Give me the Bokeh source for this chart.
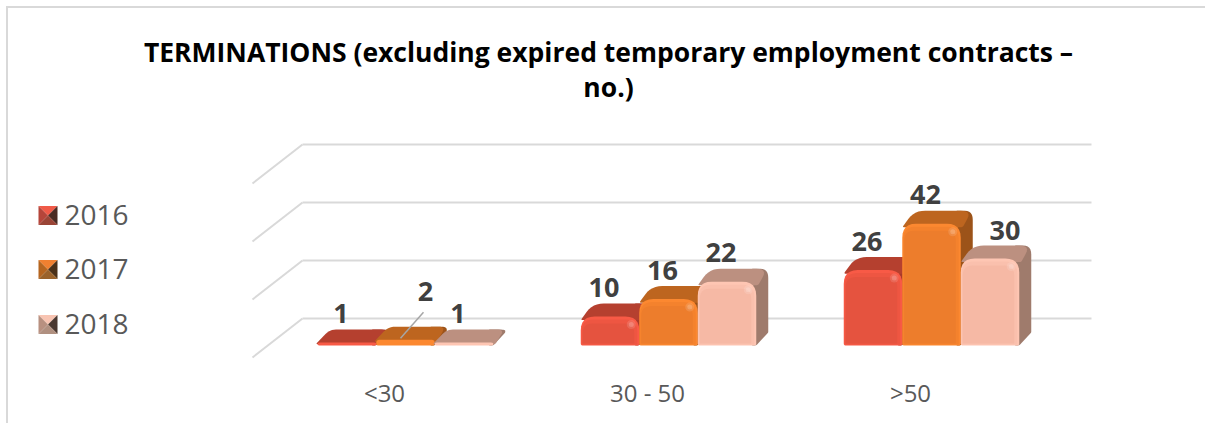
import math
from bokeh.core.properties import value
from bokeh.embed import file_html
from bokeh.models import ColumnDataSource, FixedTicker
from bokeh.plotting import figure
from bokeh.resources import INLINE

# Chart content
TITLE_LINES = ["TERMINATIONS (excluding expired temporary employment contracts –", "no.)"]
age_groups = ["<30", "30 - 50", ">50"]
years = ["2016", "2017", "2018"]
terminations_2016 = [1, 10, 26]
terminations_2017 = [2, 16, 42]
terminations_2018 = [1, 22, 30]
grid_values = [0, 20, 40, 60]

# Bevelled bar palette: body, middle of the bevel, outer edge, top face, side face
palette = [
    ("#E5533F", "#EE5642", "#F85A46", "#B5402F", "#A83A2A"),
    ("#ED7D2C", "#F4822D", "#FC8830", "#BD651F", "#9C5319"),
    ("#F6B9A5", "#FAC0AD", "#FEC6B3", "#BC9080", "#9F7B6C"),
]

# Geometry of the page and of the oblique projection, in pixels
PAGE_W, PAGE_H, FRAME_H = 1205, 423, 364
GROUP_STEP = 263.0
FIRST_TICK = 384.0
BASE_PY = 345.0
PX_PER_UNIT = 2.9
BAR_PX = 58.5
BAR_SHIFT = 21.0
DEPTH_X, DEPTH_Y = 12.0, 13.0
WALL_BACK_PY, WALL_FRONT_PY = 318.0, 357.0
WALL_LEFT_BACK, WALL_LEFT_FRONT, WALL_RIGHT = 302.0, 252.0, 1091.0
FONT = "Open Sans"


def X(px):
    return (px - FIRST_TICK) / GROUP_STEP


def Y(py):
    return (BASE_PY - py) / PX_PER_UNIT


p = figure(
    frame_width=PAGE_W,
    frame_height=FRAME_H,
    x_range=(X(0), X(PAGE_W)),
    y_range=(Y(FRAME_H), Y(0)),
    output_backend="svg",
    toolbar_location=None,
    y_axis_location=None,
    min_border=0,
    min_border_bottom=PAGE_H - FRAME_H,
    background_fill_color=None,
    border_fill_color=None,
    outline_line_color=None,
    # Left and top edges of the chart area, running the full height of the page
    styles={
        "background-color": "white",
        "background-image": "linear-gradient(#D9D9D9,#D9D9D9),linear-gradient(#D9D9D9,#D9D9D9)",
        "background-size": "2px 100%,100% 2px",
        "background-position": "6px 6px,6px 6px",
        "background-repeat": "no-repeat",
    },
)
p.grid.visible = False

# Category axis
axis = p.xaxis[0]
axis.ticker = FixedTicker(ticks=list(range(len(age_groups))))
axis.major_label_overrides = {i: name for i, name in enumerate(age_groups)}
axis.axis_line_color = None
axis.major_tick_line_color = None
axis.minor_tick_line_color = None
axis.major_label_standoff = 5
axis.major_label_text_font = FONT
axis.major_label_text_font_size = "24px"
axis.major_label_text_color = "#595959"

# Back wall and floor-side gridlines
back_off = (BASE_PY - WALL_BACK_PY) / PX_PER_UNIT
front_off = (BASE_PY - WALL_FRONT_PY) / PX_PER_UNIT
p.segment([X(WALL_LEFT_BACK)] * len(grid_values), [v + back_off for v in grid_values],
          [X(WALL_RIGHT)] * len(grid_values), [v + back_off for v in grid_values],
          line_color="#D9D9D9", line_width=2)
p.segment([X(WALL_LEFT_FRONT)] * len(grid_values), [v + front_off for v in grid_values],
          [X(WALL_LEFT_BACK)] * len(grid_values), [v + back_off for v in grid_values],
          line_color="#D9D9D9", line_width=2)


def rounded(points, radii, steps=6):
    """Round each corner of a polygon given in pixels, using quadratic curves."""
    out = []
    n = len(points)
    for i, (cx, cy) in enumerate(points):
        r = radii[i]
        if r <= 0:
            out.append((cx, cy))
            continue
        ax, ay = points[i - 1]
        bx, by = points[(i + 1) % n]
        la = math.hypot(ax - cx, ay - cy) or 1
        lb = math.hypot(bx - cx, by - cy) or 1
        ra = min(r, la / 2)
        rb = min(r, lb / 2)
        sx, sy = cx + (ax - cx) * ra / la, cy + (ay - cy) * ra / la
        ex, ey = cx + (bx - cx) * rb / lb, cy + (by - cy) * rb / lb
        for s in range(steps + 1):
            t = s / steps
            out.append(((1 - t) ** 2 * sx + 2 * t * (1 - t) * cx + t * t * ex,
                        (1 - t) ** 2 * sy + 2 * t * (1 - t) * cy + t * t * ey))
    return out


def draw_bar(group, series, val):
    body, mid, edge, top, side = palette[series]
    centre = BAR_SHIFT + (series - 1) * BAR_PX
    x0, x1 = centre - BAR_PX / 2, centre + BAR_PX / 2
    h = val * PX_PER_UNIT
    r = min(14.0, h * 0.7)
    rd = min(9.0, 3 + h * 0.4)

    def put(poly, color):
        # Polygon offsets are pixels from the group's tick and above the floor
        p.patch([group + q[0] / GROUP_STEP for q in poly], [q[1] / PX_PER_UNIT for q in poly],
                fill_color=color, line_color=None)

    # Side face, then top face, then the front with its bevel
    put(rounded([(x1 - 4, 0), (x1, 0), (x1 + DEPTH_X, DEPTH_Y), (x1 + DEPTH_X, h + DEPTH_Y),
                 (x1 - 4, h + DEPTH_Y)], [0, 2, 1, rd, 0]), side)
    flat = 2.0 if h < 8 else 0.0
    put(rounded([(x0 - flat, h - rd * 0.4), (x0 + DEPTH_X, h + DEPTH_Y), (x1 + DEPTH_X - 1, h + DEPTH_Y),
                 (x1 + 2, h - rd * 0.4)], [2, rd + 2, rd + 2, 2]), top)
    put(rounded([(x0, 0), (x1, 0), (x1, h), (x0, h)], [2, 2, r, r]), edge)
    if h > 8:
        put(rounded([(x0 + 1, 1), (x1 - 2, 1), (x1 - 2, h - 3), (x0 + 1, h - 3)],
                    [1, 1, max(r - 2, 1), max(r - 2, 1)]), mid)
        put(rounded([(x0 + 2, 2), (x1 - 5, 2), (x1 - 5, h - 7), (x0 + 2, h - 7)],
                    [1, 1, max(r - 4, 1), max(r - 4, 1)]), body)
        spot_x = group + (x1 - 8) / GROUP_STEP
        spot_y = (h - 8) / PX_PER_UNIT
        p.scatter([spot_x], [spot_y], size=9, marker="circle", fill_color="white", fill_alpha=0.12, line_color=None)
        p.scatter([spot_x], [spot_y], size=5, marker="circle", fill_color="white", fill_alpha=0.18, line_color=None)


series_values = [terminations_2016, terminations_2017, terminations_2018]
for g in range(len(age_groups)):
    for s in range(len(years)):
        draw_bar(g, s, series_values[s][g])

# Leader line for the small middle bar of the first group
leader_x = [X(423.0), X(400.0)]
leader_y = [terminations_2017[0] + 9.5, terminations_2017[0] + 0.5]
p.line(leader_x, leader_y, line_color="#A6A6A6", line_width=1.5)

# Data labels, placed relative to the front of each bar
LABEL_DX, LABEL_DY = -6, 29
nudge = {(0, 1): (20, 48), (2, 2): (15, 28)}
rows = {"x": [], "y": [], "t": [], "dx": [], "dy": []}
for g in range(len(age_groups)):
    for s in range(len(years)):
        v = series_values[s][g]
        dx, dy = nudge.get((g, s), (LABEL_DX, LABEL_DY))
        rows["x"].append(g + (BAR_SHIFT + (s - 1) * BAR_PX) / GROUP_STEP)
        rows["y"].append(v)
        rows["t"].append(str(v))
        rows["dx"].append(dx)
        rows["dy"].append(-dy)
p.text("x", "y", text="t", x_offset="dx", y_offset="dy", source=ColumnDataSource(rows),
       text_font=value(FONT), text_font_style="bold", text_font_size="27px",
       text_color="#404040", text_align="center", text_baseline="middle")

# Title
p.text([X(608), X(608)], [Y(51.5), Y(86.5)], text=TITLE_LINES, text_font=value(FONT),
       text_font_style="bold", text_font_size="26.5px", text_color="#000000",
       text_align="center", text_baseline="middle")

# Legend with pyramid-shaded keys
legend_py = [215.0, 269.0, 324.0]
key_shades = [
    ("#F05A48", "#B5453A", "#4A2A22", "#9A4436"),
    ("#F08030", "#B5651F", "#4A3018", "#9A622A"),
    ("#F8C4B2", "#B89080", "#4A3830", "#B09080"),
]
for py, name, shade in zip(legend_py, years, key_shades):
    l, r_, t, b = 38.0, 57.0, py - 9.5, py + 9.5
    mx, my = (l + r_) / 2, (t + b) / 2
    for tri, col in zip(
        [[(l, t), (r_, t), (mx, my)], [(l, t), (mx, my), (l, b)],
         [(r_, t), (r_, b), (mx, my)], [(l, b), (r_, b), (mx, my)]], shade):
        p.patch([X(q[0]) for q in tri], [Y(q[1]) for q in tri], fill_color=col, line_color=None)
p.text([X(64)] * 3, [Y(v - 1) for v in legend_py], text=years, text_font=value(FONT),
       text_font_size="28px", text_color="#595959", text_align="left", text_baseline="middle")

open("out.html", "w").write(file_html(p, INLINE))
